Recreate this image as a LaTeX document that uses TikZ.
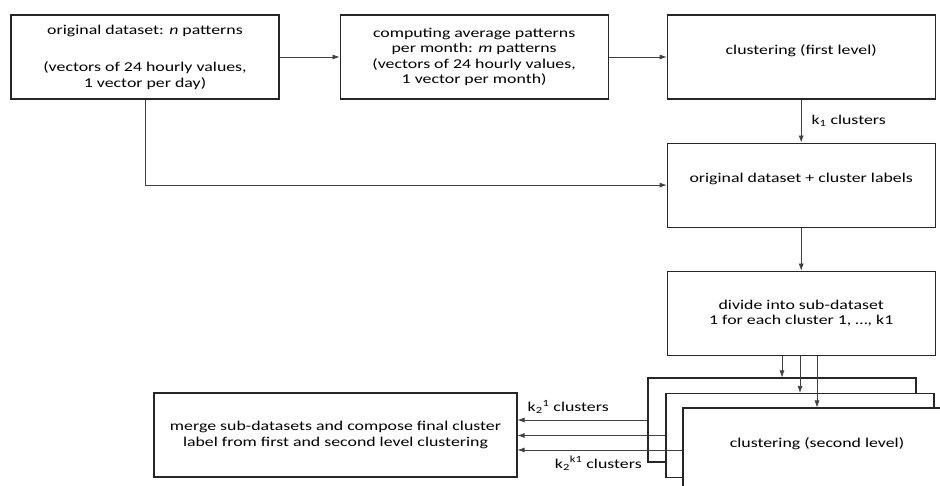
\documentclass[tikz,border=0pt]{standalone}
\usepackage{fontspec}
\setmainfont{Carlito}[FakeStretch=1.32]
\usetikzlibrary{arrows.meta,positioning}
\tikzstyle{block} = [rectangle, draw=black!85, fill=white, line width=1.1pt, minimum width=268pt, minimum height=84pt, align=center, inner sep=0pt]
\tikzstyle{line} = [draw=black!75, line width=0.7pt, -{Latex[length=7pt, width=5pt]}]
\tikzstyle{lbl} = [inner sep=0pt]

\begin{document}
\begin{tikzpicture}[x=1pt, y=-1pt, font=\fontsize{13.5}{15.5}\selectfont]
    \useasboundingbox (0,0) rectangle (940,486);
    \clip (0,0) rectangle (940,486);
    % Place nodes
    \node [block] (orig) at (145,57) {original dataset: \textit{n} patterns\\[22pt](vectors of 24 hourly values,\\1 vector per day)};
    \node [block, right=60pt of orig] (average) {computing average patterns\\per month: \textit{m} patterns\\(vectors of 24 hourly values,\\1 vector per month)};
    \node [block, right=58pt of average] (first) {clustering (first level)\\~};
    \node [block, below=43pt of first] (labels) {original dataset + cluster labels\\~};
    \node [block, below=43pt of labels] (divide) {divide into sub-dataset\\1 for each cluster 1, \dots, k1};
    \node [block] (secondA) at (782,420) {};
    \node [block] (secondB) at (800,435.5) {};
    \node [block] (secondC) at (817,450) {clustering (second level)\\~};
    \node [block, minimum width=363pt] (merge) at (335.5,435) {merge sub-datasets and compose final cluster\\label from first and second level clustering};

    % Draw edges
    \path [line] (orig) -- (average);
    \path [line] (average) -- (first);
    \path [line] (first) -- node[lbl, right=10pt] {k\textsubscript{1} clusters} (labels);
    \path [line] (orig.south) |- (labels.west);
    \path [line] (labels) -- (divide);
    \path [line] (secondA.north |- divide.south) -- (secondA.north);
    \path [line] (secondB.north |- divide.south) -- (secondB.north);
    \path [line] (secondC.north |- divide.south) -- (secondC.north);
    \path [line] (secondA.west) -- node[lbl, pos=0.61, above=6pt] {k\textsubscript{2}\textsuperscript{1} clusters} (merge.east |- secondA.west);
    \path [line] (secondB.west) -- (merge.east |- secondB.west);
    \path [line] (secondC.west) -- node[lbl, pos=0.51, below=6pt] {k\textsubscript{2}\textsuperscript{k1} clusters} (merge.east |- secondC.west);
\end{tikzpicture}
\end{document}
